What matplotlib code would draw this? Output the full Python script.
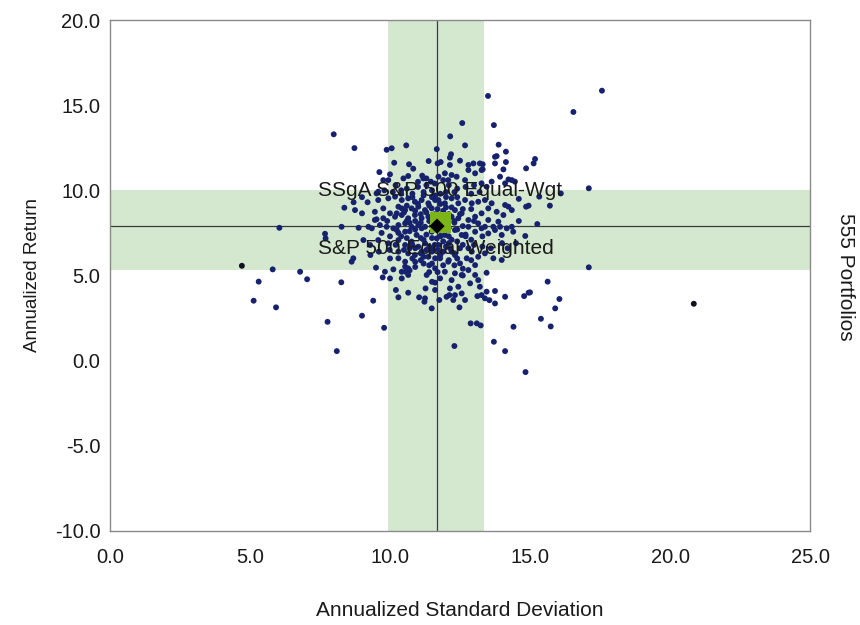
import matplotlib
matplotlib.use("Agg")
import matplotlib.pyplot as plt

plt.rcParams['font.family'] = ['Liberation Sans', 'DejaVu Sans']

# ---- data ----
x_sparse = [7.99, 8.73, 9.88, 10.06, 10.58, 10.15, 11.67, 9.62, 10.0, 10.68, 10.83, 11.15, 11.38, 11.81,
            8.37, 8.75, 9.0, 6.05, 8.27, 8.88, 7.68, 7.7,
            13.5, 16.55, 12.58, 13.71, 12.15, 12.68, 13.88, 12.18, 12.14, 14.14, 13.81, 14.14, 15.18, 15.13,
            14.86, 14.05, 13.31, 13.31, 12.5, 17.1, 14.23, 15.33, 15.71, 16.1, 15.26, 17.1, 15.63, 15.0,
            16.05, 15.9, 15.39, 15.74, 17.57, 14.83, 13.45, 13.75, 14.79, 14.95, 13.55, 13.21,
            13.27, 13.12, 12.88, 13.1, 13.24, 14.41, 13.71, 14.11, 12.3, 14.84, 12.48, 12.26, 12.12, 11.76,
            11.49, 11.23, 11.04, 10.65, 5.81, 6.79, 5.31, 7.04, 8.26, 5.13, 5.93, 9.4, 9.0, 7.77, 9.79,
            8.1, 8.63, 8.69, 9.5, 9.82, 10.12, 9.74, 10.0, 10.42, 10.21, 10.3, 11.27, 11.5, 11.61, 10.56,
            10.65, 14.86, 14.95, 14.23]
y_sparse = [13.29, 12.48, 12.38, 12.47, 12.64, 11.62, 12.42, 11.07, 10.94, 11.53, 11.27, 10.86, 11.72, 11.66,
            8.98, 8.84, 8.65, 7.8, 7.86, 7.8, 7.45, 7.18,
            15.54, 14.6, 13.95, 13.83, 13.17, 12.64, 12.68, 12.12, 11.92, 12.27, 12.01, 11.66, 11.84, 11.58,
            11.29, 11.23, 11.53, 11.23, 11.74, 10.12, 10.64, 9.63, 9.1, 9.82, 8.02, 5.48, 4.64, 4.01,
            3.62, 3.07, 2.46, 2.01, 15.85, 7.32, 5.16, 4.09, 3.79, 3.99, 3.55, 4.34,
            3.85, 3.79, 2.19, 2.19, 2.07, 1.99, 1.11, 0.56, 0.86, -0.67, 3.13, 3.56, 3.85, 3.56,
            3.07, 3.46, 3.72, 3.99, 5.36, 5.22, 4.64, 4.78, 4.6, 3.52, 3.13, 3.52, 2.64, 2.28, 1.93,
            0.56, 5.81, 6.01, 5.46, 5.22, 5.36, 4.89, 4.83, 4.83, 4.15, 3.72, 4.24, 4.63, 4.58, 5.22,
            5.42, 9.04, 9.1, 9.04]

x_core = [11.7, 10.48, 10.65, 11.19, 11.46, 9.94, 9.52, 9.58, 9.94, 10.18, 10.42, 10.65, 10.89, 11.13,
          11.37, 11.61, 9.46, 9.46, 9.76, 10.0, 9.76, 9.23, 9.64, 10.3, 10.54, 10.77, 11.01, 11.25, 11.49,
          10.18, 10.42, 10.65, 10.89, 11.13, 11.37, 10.3, 10.54, 10.77, 11.01, 11.25, 10.12,
          12.14, 12.8, 12.98, 13.21, 13.27, 12.8, 13.04, 13.75, 13.75, 14.35, 14.46, 13.93, 14.11, 13.63,
          13.45, 13.27, 11.73, 11.96, 12.08, 12.38, 12.68, 11.73, 11.96, 12.2, 12.44, 12.68, 12.92, 13.15,
          13.39, 13.63, 13.81, 13.51, 13.27, 13.04, 12.8, 13.15, 13.51, 13.87, 12.32, 12.56, 12.44, 12.2,
          14.11, 14.35, 14.05, 13.69, 13.39, 14.35,
          9.35, 9.88, 10.24, 10.54, 10.95, 11.13, 11.49, 11.67, 9.05, 9.29, 9.58, 9.94, 10.3, 10.54, 10.77,
          11.01, 11.25, 11.49, 10.65, 10.89, 11.13, 11.37, 11.61, 10.3, 10.54, 9.99, 10.42, 10.54, 10.65,
          11.31, 11.61, 11.25, 11.49, 11.61,
          11.73, 11.96, 12.32, 12.56, 12.8, 13.04, 13.27, 13.51, 13.75, 13.99, 14.17, 14.4, 13.93,
          11.73, 11.9, 11.79, 12.14, 12.32, 12.08, 12.5, 12.74, 12.92, 13.15, 13.39, 13.69, 13.99, 13.04,
          12.8, 12.56, 12.32, 11.96, 11.79, 12.2, 13.04, 13.15, 12.86, 12.44, 12.14, 12.02, 12.32, 12.56,
          12.68, 13.45, 13.39, 14.11, 13.75, 9.52, 10.24, 10.42, 9.58, 9.76,
          11.4, 11.6, 11.9, 12.0, 12.1, 11.5, 11.3, 11.8, 12.2, 11.1, 10.9, 10.7, 12.0, 11.9, 11.5, 12.3,
          11.0, 11.5, 12.0, 12.4, 10.6, 10.2, 11.2, 11.8, 12.9, 13.2, 10.8, 9.8, 10.4, 12.7, 13.0, 12.1,
          11.3, 10.1, 12.6, 12.9, 12.7, 12.4, 12.9, 12.1, 11.6, 11.3, 12.5, 12.2, 10.9, 11.9, 10.8, 11.2,
          11.9, 10.3, 10.9, 11.4, 12.6, 12.3, 11.1, 10.0, 9.7, 10.4, 9.9, 10.6, 11.1, 12.3, 13.0, 13.3,
          12.6, 13.6, 13.0, 13.3, 14.0, 9.6, 9.3, 10.0, 10.7, 11.7, 12.9, 9.2, 9.0, 8.7, 14.6, 14.6, 14.2,
          14.5]
y_core = [11.58, 10.7, 10.84, 10.7, 10.51, 10.6, 9.82, 9.43, 9.53, 9.63, 9.43, 9.53, 9.33, 9.43,
          9.24, 9.43, 8.74, 8.26, 8.94, 8.65, 8.36, 7.86, 7.96, 9.04, 8.84, 8.94, 9.04, 8.84, 8.94,
          8.45, 8.55, 8.36, 8.55, 8.36, 8.45, 7.96, 8.06, 7.86, 7.96, 7.86, 7.77,
          11.49, 11.49, 11.58, 11.58, 11.19, 11.19, 11.0, 11.97, 11.58, 10.6, 10.51, 10.8, 10.41, 10.51,
          10.21, 10.41, 10.8, 11.0, 10.6, 10.8, 10.6, 9.43, 9.24, 9.53, 9.24, 9.43, 9.24, 9.33,
          9.43, 9.24, 8.74, 8.94, 8.65, 8.45, 8.26, 8.06, 8.26, 8.16, 8.84, 8.65, 8.36, 8.45,
          9.14, 8.84, 8.55, 7.86, 7.86, 7.86,
          7.77, 7.86, 7.67, 7.57, 7.38, 7.77, 7.57, 7.18, 7.08, 6.79, 7.08, 6.89, 7.08, 6.79, 6.99,
          6.69, 6.89, 6.6, 6.3, 6.2, 6.4, 6.1, 6.01, 6.01, 5.81, 6.5, 5.22, 5.52, 5.03,
          5.03, 4.15, 3.66, 6.4, 5.42,
          7.67, 7.38, 7.67, 7.38, 7.86, 7.57, 7.77, 7.47, 7.67, 7.38, 7.77, 7.57, 7.86,
          6.79, 6.4, 6.01, 6.6, 6.2, 5.81, 5.71, 6.01, 6.4, 6.1, 6.3, 6.01, 5.91, 5.61,
          5.32, 5.03, 5.13, 5.22, 4.83, 4.73, 5.03, 4.73, 4.54, 4.34, 4.24, 3.75, 3.85, 3.95,
          3.56, 4.05, 3.66, 3.75, 3.36, 8.3, 8.65, 8.94, 9.92, 10.6,
          8.2, 8.6, 8.5, 8.0, 7.8, 7.9, 7.4, 7.3, 7.1, 7.2, 8.2, 7.6, 9.0, 8.8, 9.6, 9.9,
          10.2, 10.0, 9.9, 10.1, 10.1, 10.3, 9.7, 9.8, 9.8, 9.9, 9.8, 10.0, 10.0, 10.2, 10.3, 10.3,
          10.3, 9.9, 8.9, 8.9, 7.3, 7.0, 7.1, 6.9, 6.8, 6.5, 6.6, 6.4, 6.6, 7.0, 6.0, 5.7,
          5.6, 6.4, 5.5, 5.2, 5.4, 5.6, 5.9, 7.3, 7.5, 7.3, 8.2, 8.2, 8.6, 8.1, 8.2, 7.3,
          7.9, 6.6, 6.8, 6.7, 6.9, 6.4, 6.2, 6.0, 6.6, 5.2, 5.9, 9.3, 9.6, 9.3, 9.5, 8.2, 6.6,
          6.9]

# extra points in the densest part of the cloud
x_dense = [10.4, 10.6, 10.8, 11.0, 11.2, 11.4, 11.6, 11.8, 12.0, 12.2, 12.4, 10.5, 10.7, 10.9, 11.1,
           11.3, 11.5, 11.7, 11.9, 12.1, 12.3, 12.5, 10.3, 10.6, 10.9, 11.2, 11.5, 11.8, 12.1, 12.4,
           12.7, 10.2, 10.5, 10.8, 11.1, 11.4, 11.7, 12.0, 12.3, 12.6, 10.9, 11.2, 11.5, 11.8, 12.1,
           12.4, 11.0, 11.3, 11.6, 11.9, 12.2, 10.7, 11.4, 12.6, 12.8]
y_dense = [9.8, 9.1, 9.6, 9.2, 9.9, 9.1, 9.7, 9.2, 9.6, 9.0, 9.6, 8.7, 8.1, 8.8, 8.1, 8.7, 8.4, 8.9,
           8.3, 8.6, 8.2, 8.6, 7.5, 7.2, 7.7, 7.1, 7.2, 7.6, 7.3, 7.7, 7.4, 6.8, 6.5, 6.8, 6.3, 6.7,
           6.5, 6.7, 6.3, 6.8, 5.8, 6.1, 5.7, 6.2, 5.9, 6.0, 10.5, 10.7, 10.4, 10.6, 10.9, 5.3, 5.6,
           5.0, 6.6]

# dark (black) outliers
x_dark = [20.85, 4.71]
y_dark = [3.34, 5.57]

# benchmark bands and markers
band_x = (9.93, 13.36)
band_y = (5.32, 10.02)
bench_x, bench_y = 11.68, 7.9       # S&P 500 Equal Weighted (diamond)
fund_x, fund_y = 11.8, 8.1          # SSgA S&P 500 Equal-Wgt (square)
fund_label = "SSgA S&P 500 Equal-Wgt"
bench_label = "S&P 500 Equal Weighted"

x_ticks = [0.0, 5.0, 10.0, 15.0, 20.0, 25.0]
y_ticks = [-10.0, -5.0, 0.0, 5.0, 10.0, 15.0, 20.0]

# ---- figure ----
fig = plt.figure(figsize=(8.6, 6.25), dpi=100)
ax = fig.add_axes([110/860, 1-531/625, 700/860, 511/625])

band_col = '#d4e7cf'
ax.axvspan(*band_x, color=band_col, lw=0, zorder=0)
ax.axhspan(*band_y, color=band_col, lw=0, zorder=0)
ax.axvline(bench_x, color='#3a3a3a', lw=0.9, zorder=1)
ax.axhline(bench_y, color='#3a3a3a', lw=0.9, zorder=1)

pt_col = '#17226e'
ax.scatter(x_sparse + x_core + x_dense, y_sparse + y_core + y_dense, s=18, color=pt_col,
           edgecolors='none', zorder=2)
ax.scatter(x_dark, y_dark, s=18, color='#101020', edgecolors='none', zorder=2)

ax.scatter([fund_x], [fund_y], marker='s', s=220, color='#7cb518', edgecolors='none', zorder=3)
ax.scatter([bench_x], [bench_y], marker='D', s=60, color='black', edgecolors='none', zorder=4)

fs = 15
ax.text(7.43, 10.0, fund_label, fontsize=fs, ha='left', va='center', color='#1a1a1a', zorder=5)
ax.text(7.43, 6.6, bench_label, fontsize=fs, ha='left', va='center', color='#1a1a1a', zorder=5)

ax.set_xlim(0, 25)
ax.set_ylim(-10, 20)
ax.set_xticks(x_ticks)
ax.set_xticklabels([f"{v:.1f}" for v in x_ticks])
ax.set_yticks(y_ticks)
ax.set_yticklabels([f"{v:.1f}" for v in y_ticks])
ax.tick_params(axis='x', length=0, labelsize=14.5, pad=12, colors='#1a1a1a')
ax.tick_params(axis='y', length=0, labelsize=14.5, pad=7, colors='#1a1a1a')
for s in ax.spines.values():
    s.set_color('#8a8a8a')
    s.set_linewidth(1.0)

ax.set_xlabel("Annualized Standard Deviation", fontsize=fs, labelpad=25, color='#1a1a1a')
ax.set_ylabel("Annualized Return", fontsize=13.5, labelpad=10, color='#1a1a1a')
fig.text(845/860, 1-277/625, "555 Portfolios", rotation=270, fontsize=fs,
         ha='center', va='center', color='#1a1a1a')

fig.savefig("out.png", dpi=100)
